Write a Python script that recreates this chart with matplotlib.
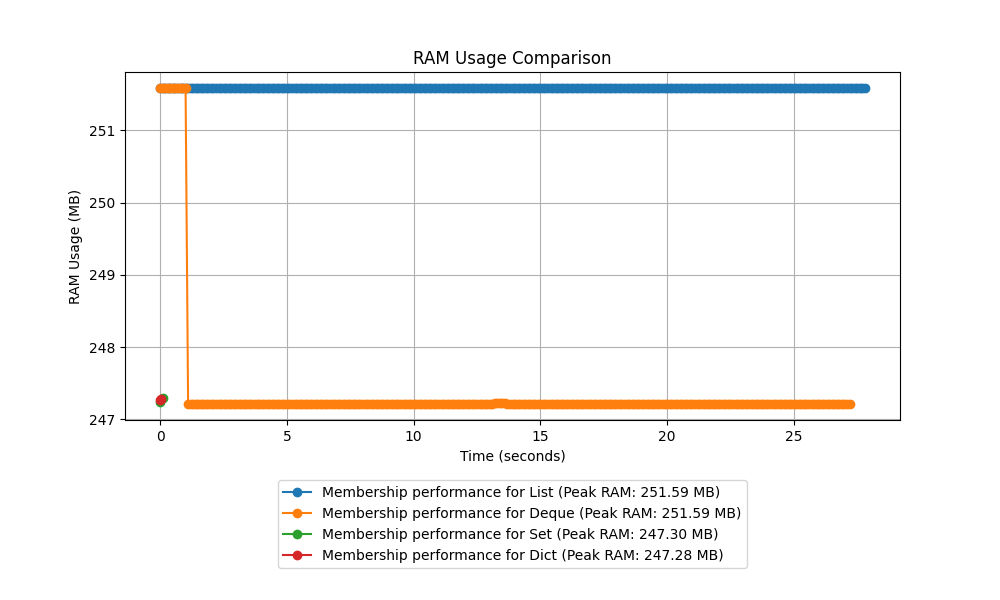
import numpy as np
import matplotlib
matplotlib.use("Agg")
import matplotlib.pyplot as plt

# sampling interval of the memory monitor (seconds)
dt = 0.1

# List: flat at peak for the whole run
list_n = 279
list_ram = 251.59

# Deque: short high phase, then low with a tiny bump around 13.2-13.6 s
deque_hi_n = 11
deque_hi_ram = 251.59
deque_lo_start = 1.1
deque_lo_n = 262
deque_lo_ram = 247.21
deque_bump = (13.2, 13.6, 247.225)

# Set / Dict: only a couple of samples
set_t = [0.0, 0.1]
set_ram = [247.24, 247.30]
dict_t = [0.0, 0.03]
dict_ram = [247.27, 247.28]

labels = ["List", "Deque", "Set", "Dict"]

list_t = np.arange(list_n) * dt
list_y = np.full(list_n, list_ram)

deque_t = np.concatenate([np.arange(deque_hi_n) * dt,
                          deque_lo_start + np.arange(deque_lo_n) * dt])
deque_y = np.concatenate([np.full(deque_hi_n, deque_hi_ram),
                          np.full(deque_lo_n, deque_lo_ram)])
bump = (deque_t >= deque_bump[0]) & (deque_t <= deque_bump[1])
deque_y[bump] = deque_bump[2]

series = [(list_t, list_y), (deque_t, deque_y), (set_t, set_ram), (dict_t, dict_ram)]

fig, ax = plt.subplots(figsize=(10, 6))
for name, (t, y) in zip(labels, series):
    ax.plot(t, y, marker="o",
            label=f"Membership performance for {name} (Peak RAM: {max(y):.2f} MB)")

ax.set_title("RAM Usage Comparison")
ax.set_xlabel("Time (seconds)")
ax.set_ylabel("RAM Usage (MB)")
ax.grid(True)
ax.legend(loc="upper center", bbox_to_anchor=(0.5, -0.153))
fig.subplots_adjust(bottom=0.3)
fig.savefig("out.png", dpi=100)
plt.close(fig)
